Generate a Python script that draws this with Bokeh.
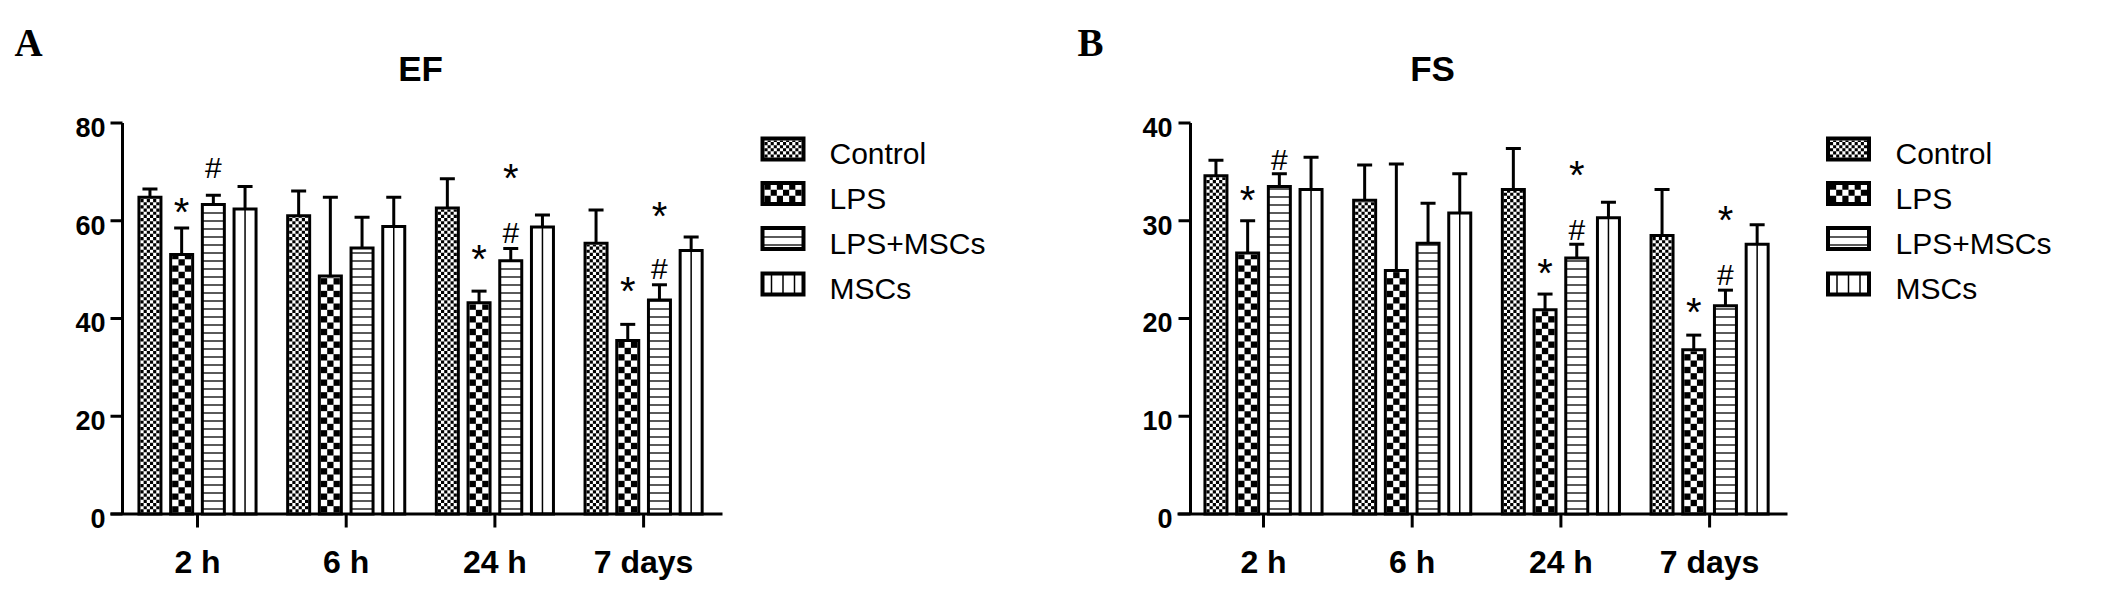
import math
from bokeh.plotting import figure
from bokeh.models import Range1d, FixedTicker
from bokeh.layouts import row
from bokeh.core.properties import value
from bokeh.embed import file_html
from bokeh.resources import INLINE

# ---------------- data ----------------
categories = ["2 h", "6 h", "24 h", "7 days"]
groups = ["Control", "LPS", "LPS+MSCs", "MSCs"]

ef_control = [64.8, 61.0, 62.6, 55.4]
ef_control_sd = [1.7, 5.1, 6.0, 6.8]
ef_lps = [53.1, 48.7, 43.2, 35.5]
ef_lps_sd = [5.4, 16.1, 2.4, 3.3]
ef_lps_mscs = [63.3, 54.4, 51.8, 43.8]
ef_lps_mscs_sd = [1.9, 6.3, 2.5, 3.1]
ef_mscs = [62.4, 58.8, 58.7, 53.9]
ef_mscs_sd = [4.6, 6.0, 2.5, 2.8]

fs_control = [34.6, 32.1, 33.2, 28.5]
fs_control_sd = [1.6, 3.6, 4.2, 4.7]
fs_lps = [26.7, 24.9, 20.9, 16.8]
fs_lps_sd = [3.3, 10.9, 1.6, 1.5]
fs_lps_mscs = [33.5, 27.7, 26.2, 21.3]
fs_lps_mscs_sd = [1.3, 4.1, 1.4, 1.6]
fs_mscs = [33.2, 30.8, 30.3, 27.6]
fs_mscs_sd = [3.3, 4.0, 1.6, 2.0]

ef_yticks = [0, 20, 40, 60, 80]
fs_yticks = [0, 10, 20, 30, 40]

# significance marks: category index, group index, symbol, height
ef_mark_cat = [0, 0, 2, 2, 2, 3, 3, 3]
ef_mark_grp = [1, 2, 1, 2, 2, 1, 2, 2]
ef_mark_sym = ["*", "#", "*", "#", "*", "*", "#", "*"]
ef_mark_y = [65.0, 71.8, 55.2, 58.5, 71.8, 48.7, 51.2, 64.1]

fs_mark_cat = [0, 0, 2, 2, 2, 3, 3, 3]
fs_mark_grp = [1, 2, 1, 2, 2, 1, 2, 2]
fs_mark_sym = ["*", "#", "*", "#", "*", "*", "#", "*"]
fs_mark_y = [33.7, 36.7, 26.2, 29.5, 36.2, 22.2, 24.9, 31.6]

# ---------------- layout ----------------
PX = 148.7      # pixels per category
Y0 = 513.5      # canvas y of value 0
FRAME_H = 534
DROP = 0.2      # text renders ~0.2em low; compensate
SANS = value("Liberation Sans")
SERIF = value("Liberation Serif")


def checker_cells(xc, y_bot, y_top, inner_w_px, ncols, yscale, acc):
    """black cells of a checkerboard filling [xc-w/2, xc+w/2] x [y_bot, y_top]"""
    c = inner_w_px / ncols
    cw = c / PX
    ch = c / yscale
    left0 = xc - inner_w_px / 2 / PX
    nrows = int(math.ceil((y_top - y_bot) / ch))
    for r in range(nrows):
        b = y_bot + r * ch
        t = min(b + ch, y_top)
        for col in range(ncols):
            if (r + col) % 2 == 0:
                acc["left"].append(left0 + col * cw)
                acc["right"].append(left0 + (col + 1) * cw)
                acc["bottom"].append(b)
                acc["top"].append(t)


def make_panel(letter, title, means, sds, yticks, marks, L):
    yscale = L["yscale"]
    c0 = L["c0"]

    def X(px):
        return (px - c0) / PX

    def Y(py):
        return (Y0 - py) / yscale

    p = figure(frame_width=1055, frame_height=FRAME_H,
               x_range=Range1d(X(0), X(1055)), y_range=Range1d(Y(FRAME_H), Y(0)),
               output_backend="svg", toolbar_location=None, y_axis_location=None,
               min_border_left=0, min_border_right=0, min_border_top=0,
               min_border_bottom=40, outline_line_color=None,
               background_fill_color="white", border_fill_color="white")
    p.grid.visible = False

    ax = p.xaxis[0]
    ax.ticker = FixedTicker(ticks=list(range(len(categories))))
    ax.major_label_overrides = {i: c for i, c in enumerate(categories)}
    ax.axis_line_color = None
    ax.major_tick_line_color = None
    ax.major_tick_out = 0
    ax.major_tick_in = 0
    ax.minor_tick_out = 0
    ax.minor_tick_in = 0
    ax.major_label_standoff = 9
    ax.major_label_text_font = "Liberation Sans"
    ax.major_label_text_font_style = "bold"
    ax.major_label_text_font_size = "32px"
    ax.major_label_text_color = "black"

    ncat = len(categories)
    # axis lines and ticks
    p.segment(x0=[X(L["xaxis0"])], y0=[0], x1=[X(L["xaxis1"])], y1=[0],
              line_width=3, line_color="black")
    p.segment(x0=list(range(ncat)), y0=[0] * ncat, x1=list(range(ncat)),
              y1=[Y(Y0 + 13.5)] * ncat, line_width=3, line_color="black")
    p.segment(x0=[X(L["yaxis"])], y0=[0], x1=[X(L["yaxis"])], y1=[yticks[-1]],
              line_width=3, line_color="black")
    p.segment(x0=[X(L["yaxis"] - 12)] * len(yticks), y0=yticks,
              x1=[X(L["yaxis"])] * len(yticks), y1=yticks,
              line_width=3, line_color="black")
    p.text(x=[X(L["ylab"])] * len(yticks), y=yticks, text=[str(t) for t in yticks],
           text_align="right", text_baseline="alphabetic",
           y_offset=0.358 * 27 - DROP * 27,
           text_font=SANS, text_font_style="bold", text_font_size="27px",
           text_color="black")

    pitch = 31.7 / PX
    bw = 22 / PX
    cap = 15 / PX
    pad_y = 1.5 / yscale
    fine = dict(left=[], right=[], bottom=[], top=[])
    coarse = dict(left=[], right=[], bottom=[], top=[])
    bar_x = []
    for gi in range(len(groups)):
        xs = [i + (gi - 1.5) * pitch for i in range(ncat)]
        bar_x.append(xs)
        tops = means[gi]
        errs = [m + s for m, s in zip(means[gi], sds[gi])]
        p.segment(x0=xs, y0=tops, x1=xs, y1=errs, line_width=3, line_color="black")
        p.segment(x0=[x - cap / 2 for x in xs], y0=errs, x1=[x + cap / 2 for x in xs],
                  y1=errs, line_width=3, line_color="black")
        if gi == 0:
            for x, t in zip(xs, tops):
                checker_cells(x, pad_y, t - pad_y, 19, 6, yscale, fine)
        if gi == 1:
            for x, t in zip(xs, tops):
                checker_cells(x, pad_y, t - pad_y, 19, 3, yscale, coarse)

    # legend geometry
    rows_cy = [148.5, 193.0, 238.0, 283.5]
    sx = L["sw_x"]
    checker_cells(X(sx), Y(rows_cy[0] + 8.5), Y(rows_cy[0] - 8.5), 37, 12, yscale, fine)
    checker_cells(X(sx), Y(rows_cy[1] + 8.5), Y(rows_cy[1] - 8.5), 37, 6, yscale, coarse)

    p.quad(left="left", right="right", bottom="bottom", top="top", source=fine,
           fill_color="black", line_color=None)
    p.quad(left="left", right="right", bottom="bottom", top="top", source=coarse,
           fill_color="black", line_color=None)

    for gi in range(len(groups)):
        xs = bar_x[gi]
        tops = means[gi]
        if gi == 2:
            p.vbar(x=xs, top=tops, bottom=0, width=bw, fill_color="white",
                   line_color="black", line_width=3, line_join="miter",
                   hatch_pattern="horizontal_line", hatch_scale=8, hatch_weight=1.3,
                   hatch_color="black")
        else:
            p.vbar(x=xs, top=tops, bottom=0, width=bw, fill_color=None,
                   line_color="black", line_width=3, line_join="miter")
        if gi == 3:
            p.segment(x0=xs, y0=[0] * len(xs), x1=xs, y1=tops, line_width=1.5,
                      line_color="black")

    # significance marks
    mc, mg, ms, my = marks
    for sym, fs, off in (("*", 40, 0.58 * 40), ("#", 30, 0.345 * 30)):
        idx = [k for k in range(len(ms)) if ms[k] == sym]
        p.text(x=[mc[k] + (mg[k] - 1.5) * pitch for k in idx], y=[my[k] for k in idx],
               text=[sym] * len(idx), text_align="center", text_baseline="alphabetic",
               y_offset=off - DROP * fs, text_font=SANS, text_font_size=f"{fs}px",
               text_color="black")

    # title and panel letter
    p.text(x=[X(L["title_x"])], y=[Y(75)], text=[title], text_align="center",
           text_baseline="alphabetic", y_offset=-DROP * 35, text_font=SANS,
           text_font_style="bold", text_font_size="35px", text_color="black")
    p.text(x=[X(L["letter_x"])], y=[Y(50)], text=[letter], text_align="left",
           text_baseline="alphabetic", y_offset=-DROP * 39, text_font=SERIF,
           text_font_style="bold", text_font_size="39px", text_color="black")

    # legend swatches and labels
    for gi in range(len(groups)):
        kw = {}
        if gi == 2:
            kw = dict(hatch_pattern="horizontal_line", hatch_scale=8, hatch_weight=1.3,
                      hatch_color="black")
        p.rect(x=[X(sx)], y=[Y(rows_cy[gi])], width=41 / PX, height=21 / yscale,
               fill_color=None if gi < 2 else "white", line_color="black",
               line_width=4, line_join="miter", **kw)
    for dx in (-11.5, 0, 11.5):
        p.segment(x0=[X(sx + dx)], y0=[Y(rows_cy[3] - 10.5)], x1=[X(sx + dx)],
                  y1=[Y(rows_cy[3] + 10.5)], line_width=1.5, line_color="black")
    p.text(x=[X(L["lt_x"])] * len(groups), y=[Y(c + 10.7) for c in rows_cy],
           text=groups, text_align="left", text_baseline="alphabetic",
           y_offset=-DROP * 30, text_font=SANS, text_font_size="30px",
           text_color="black")
    return p


LA = dict(yscale=391 / 80, c0=197, xaxis0=110, xaxis1=722, yaxis=122, ylab=105,
          title_x=420, letter_x=14, sw_x=782.5, lt_x=829)
LB = dict(yscale=391 / 40, c0=208, xaxis0=122, xaxis1=732, yaxis=135, ylab=117,
          title_x=377, letter_x=22, sw_x=793, lt_x=840)

pa = make_panel("A", "EF",
                [ef_control, ef_lps, ef_lps_mscs, ef_mscs],
                [ef_control_sd, ef_lps_sd, ef_lps_mscs_sd, ef_mscs_sd],
                ef_yticks, (ef_mark_cat, ef_mark_grp, ef_mark_sym, ef_mark_y), LA)
pb = make_panel("B", "FS",
                [fs_control, fs_lps, fs_lps_mscs, fs_mscs],
                [fs_control_sd, fs_lps_sd, fs_lps_mscs_sd, fs_mscs_sd],
                fs_yticks, (fs_mark_cat, fs_mark_grp, fs_mark_sym, fs_mark_y), LB)

layout = row(pa, pb, spacing=0)
open("out.html", "w").write(file_html(layout, INLINE))
